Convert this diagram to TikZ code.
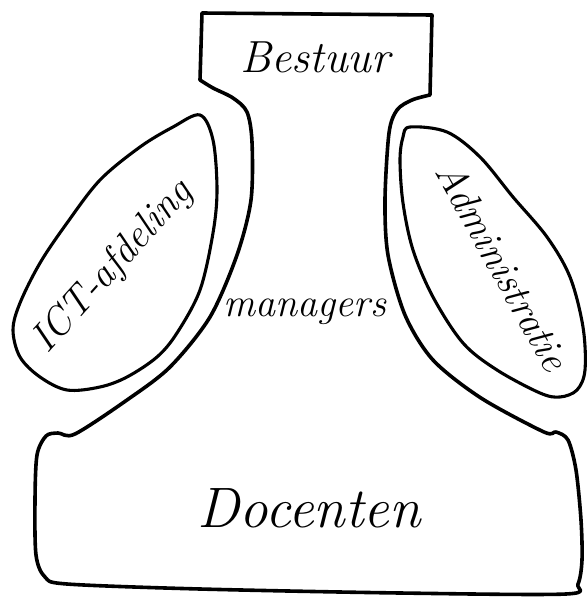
\documentclass[tikz,border=0pt]{standalone}
\usepackage{fontspec}
\begin{document}
\begin{tikzpicture}[x=1pt,y=-1pt,
  outline/.style={line width=3.6pt, line join=round, line cap=round},
  blob/.style={line width=3.1pt, line join=round},
  hand/.style={font=\itshape, inner sep=0pt}]
\useasboundingbox (0,0) rectangle (588,598);
% main outline: Bestuur box, neck, Docenten box
\draw[outline] (200,80) -- (202,13) -- (432,15) -- (430,95)
  -- plot[smooth, tension=0.5] coordinates {(430,95) (412,100) (397,110) (389,133) (385,200) (388,255) (405,315) (433,360) (481,398) (544,432) (556,432) (568,440) (576,470) (581,520) (582,560) (578,584) (566,594) (400,593) (200,589) (67,584) (45,577) (36,555) (35,500) (37,455) (46,436) (58,433) (75,434) (127,400) (170,367) (210,317) (237,255) (251,200) (252,142) (247,112) (233,98) (213,88) (200,80)} -- cycle;
% ICT-afdeling leaf
\draw[blob] plot[smooth cycle, tension=0.55] coordinates {(200,115) (213,140) (217,190) (213,233) (200,290) (177,333) (157,357) (127,377) (100,387) (67,390) (40,377) (20,357) (13,330) (20,303) (40,263) (67,223) (100,180) (140,147) (173,127)};
% Administratie leaf
\draw[blob] plot[smooth cycle, tension=0.55] coordinates {(410,127) (447,132) (480,157) (513,197) (547,237) (570,277) (583,327) (585,370) (577,390) (560,397) (540,393) (497,370) (463,343) (433,297) (413,250) (403,203) (400,160) (403,137)};
% labels
\node[hand, font=\itshape\fontsize{45}{50}\selectfont, anchor=base] (bestuur) at (315,72) {Bestuur};
\node[hand, font=\itshape\fontsize{40}{46}\selectfont, anchor=base] (managers) at (305,316) {managers};
\node[hand, font=\itshape\fontsize{57}{62}\selectfont, anchor=base] (docenten) at (309,527) {Docenten};
\node[hand, font=\itshape\fontsize{40}{46}\selectfont, rotate=48] (ict) at (113,267) {ICT-afdeling};
\node[hand, font=\itshape\fontsize{40}{46}\selectfont, rotate=-61] (admin) at (503,266) {Administratie};
\end{tikzpicture}
\end{document}
